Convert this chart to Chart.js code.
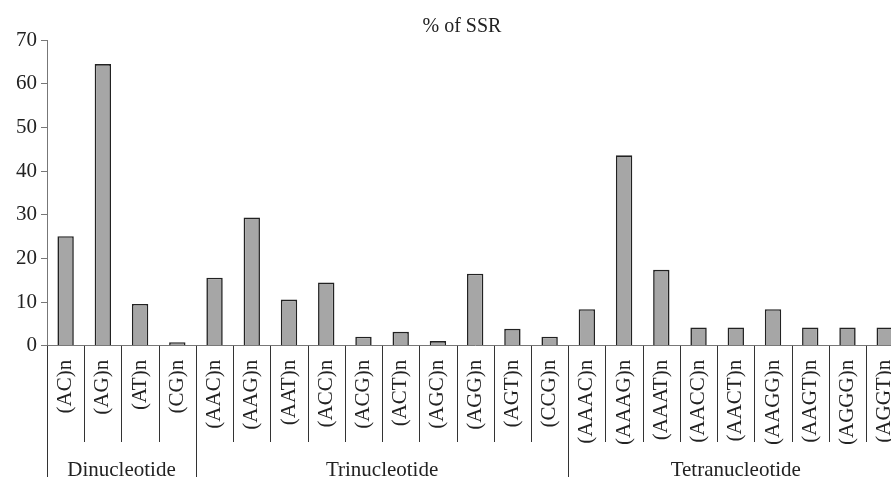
<!DOCTYPE html>
<html>
<head>
<meta charset="utf-8">
<script src="https://cdn.jsdelivr.net/npm/chart.js@4"></script>
<style>
  html, body { margin: 0; padding: 0; background: #fff; overflow: hidden; }
  #wrap { width: 916px; height: 477px; }
</style>
</head>
<body>
<div id="wrap"><canvas id="ssrChart"></canvas></div>
<script>
const motifs = [
  "(AC)n", "(AG)n", "(AT)n", "(CG)n",
  "(AAC)n", "(AAG)n", "(AAT)n", "(ACC)n", "(ACG)n", "(ACT)n", "(AGC)n", "(AGG)n", "(AGT)n", "(CCG)n",
  "(AAAC)n", "(AAAG)n", "(AAAT)n", "(AACC)n", "(AACT)n", "(AAGG)n", "(AAGT)n", "(AGGG)n", "(AGGT)n"
];
const ssrPercent = [
  25.1, 64.5, 9.6, 0.8,
  15.6, 29.4, 10.6, 14.5, 2.1, 3.2, 1.1, 16.5, 3.9, 2.1,
  8.4, 43.6, 17.4, 4.2, 4.2, 8.4, 4.2, 4.2, 4.2
];
const groupNames = ["Dinucleotide", "Trinucleotide", "Tetranucleotide"];
const groupSizes = [4, 10, 9];
const yTicks = [0, 10, 20, 30, 40, 50, 60, 70];

const serif = "'Liberation Serif', 'DejaVu Serif', serif";

// dividers under the axis + group names
const groupDividers = {
  id: "groupDividers",
  afterDraw(chart) {
    const { ctx, chartArea, scales: { x } } = chart;
    const half = (x.getPixelForValue(1) - x.getPixelForValue(0)) / 2;
    const starts = [0];
    groupSizes.forEach((n, i) => starts.push(starts[i] + n));

    ctx.save();
    ctx.strokeStyle = "#333";
    ctx.lineWidth = 1;
    for (let i = 0; i <= motifs.length; i++) {
      const px = Math.round(x.getPixelForValue(i) - half) + 0.5;
      const bottom = starts.includes(i) ? chart.height : 442;
      ctx.beginPath();
      ctx.moveTo(px, chartArea.bottom);
      ctx.lineTo(px, bottom);
      ctx.stroke();
    }

    ctx.fillStyle = "#222";
    ctx.font = "21px " + serif;
    ctx.textAlign = "center";
    ctx.textBaseline = "middle";
    groupNames.forEach((name, g) => {
      const left = x.getPixelForValue(starts[g]) - half;
      const right = x.getPixelForValue(starts[g + 1] - 1) + half;
      ctx.fillText(name, (left + right) / 2, 470);
    });
    ctx.restore();
  }
};

new Chart(document.getElementById("ssrChart"), {
  type: "bar",
  data: {
    labels: motifs,
    datasets: [{
      data: ssrPercent,
      backgroundColor: "#a6a6a6",
      borderColor: "#222",
      borderWidth: 1.6,
      barPercentage: 0.44,
      categoryPercentage: 1
    }]
  },
  options: {
    responsive: true,
    maintainAspectRatio: false,
    animation: false,
    layout: { padding: { left: 12, right: 4, bottom: 26, top: 0 } },
    plugins: {
      legend: { display: false },
      tooltip: { enabled: false },
      title: {
        display: true,
        text: "% of SSR",
        color: "#222",
        font: { family: serif, size: 20, weight: "normal" },
        padding: { top: 15, bottom: 1 }
      }
    },
    scales: {
      x: {
        grid: { display: false },
        border: { color: "#777", width: 1 },
        ticks: {
          color: "#222",
          font: { family: serif, size: 21 },
          minRotation: 90,
          maxRotation: 90,
          autoSkip: false,
          padding: 6
        }
      },
      y: {
        min: 0,
        max: 70,
        afterBuildTicks(scale) {
          scale.ticks = yTicks.map(v => ({ value: v }));
        },
        grid: { drawOnChartArea: false, drawTicks: true, tickLength: 6, color: "#777" },
        border: { color: "#777", width: 1 },
        ticks: {
          color: "#222",
          font: { family: serif, size: 21 },
          padding: 4
        }
      }
    }
  },
  plugins: [groupDividers]
});
</script>
</body>
</html>
